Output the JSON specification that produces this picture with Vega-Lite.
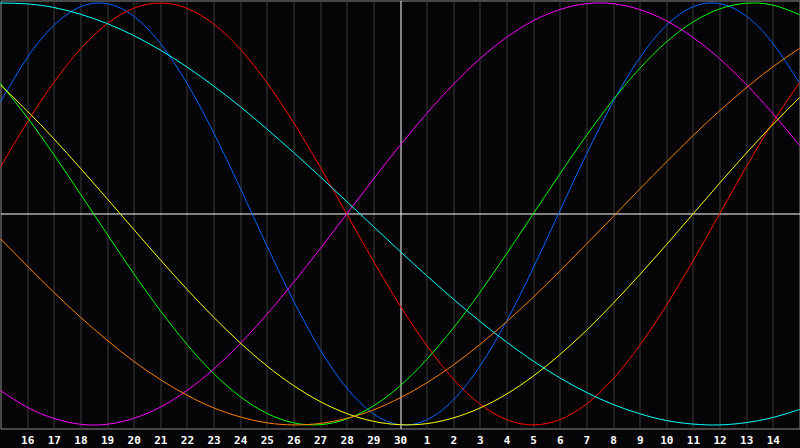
{
  "$schema": "https://vega.github.io/schema/vega-lite/v6.json",
  "width": 799,
  "height": 428,
  "autosize": "none",
  "padding": {"left": 0.5, "top": 0.5, "right": 0.5, "bottom": 19},
  "background": "#050507",
  "config": {"view": {"stroke": "#8c8c8c", "strokeWidth": 1}},
  "data": {"values": [
    {"c":"23","t":0,"v":0.531},{"c":"23","t":1,"v":0.740},{"c":"23","t":2,"v":0.894},{"c":"23","t":3,"v":0.982},{"c":"23","t":4,"v":0.997},{"c":"23","t":5,"v":0.938},{"c":"23","t":6,"v":0.809},{"c":"23","t":7,"v":0.620},{"c":"23","t":8,"v":0.386},{"c":"23","t":9,"v":0.123},{"c":"23","t":10,"v":-0.150},{"c":"23","t":11,"v":-0.411},{"c":"23","t":12,"v":-0.642},{"c":"23","t":13,"v":-0.825},{"c":"23","t":14,"v":-0.947},{"c":"23","t":15,"v":-0.999},{"c":"23","t":16,"v":-0.976},{"c":"23","t":17,"v":-0.882},{"c":"23","t":18,"v":-0.721},{"c":"23","t":19,"v":-0.508},{"c":"23","t":20,"v":-0.257},{"c":"23","t":21,"v":0.014},{"c":"23","t":22,"v":0.283},{"c":"23","t":23,"v":0.531},{"c":"23","t":24,"v":0.740},{"c":"23","t":25,"v":0.894},{"c":"23","t":26,"v":0.982},{"c":"23","t":27,"v":0.997},{"c":"23","t":28,"v":0.938},{"c":"23","t":29,"v":0.809},{"c":"23","t":30,"v":0.620},
    {"c":"28","t":0,"v":0.223},{"c":"28","t":1,"v":0.434},{"c":"28","t":2,"v":0.623},{"c":"28","t":3,"v":0.782},{"c":"28","t":4,"v":0.901},{"c":"28","t":5,"v":0.975},{"c":"28","t":6,"v":1.000},{"c":"28","t":7,"v":0.975},{"c":"28","t":8,"v":0.901},{"c":"28","t":9,"v":0.782},{"c":"28","t":10,"v":0.623},{"c":"28","t":11,"v":0.434},{"c":"28","t":12,"v":0.223},{"c":"28","t":13,"v":0},{"c":"28","t":14,"v":-0.223},{"c":"28","t":15,"v":-0.434},{"c":"28","t":16,"v":-0.623},{"c":"28","t":17,"v":-0.782},{"c":"28","t":18,"v":-0.901},{"c":"28","t":19,"v":-0.975},{"c":"28","t":20,"v":-1.000},{"c":"28","t":21,"v":-0.975},{"c":"28","t":22,"v":-0.901},{"c":"28","t":23,"v":-0.782},{"c":"28","t":24,"v":-0.623},{"c":"28","t":25,"v":-0.434},{"c":"28","t":26,"v":-0.223},{"c":"28","t":27,"v":0},{"c":"28","t":28,"v":0.223},{"c":"28","t":29,"v":0.434},{"c":"28","t":30,"v":0.623},
    {"c":"33","t":0,"v":0.618},{"c":"33","t":1,"v":0.458},{"c":"33","t":2,"v":0.282},{"c":"33","t":3,"v":0.095},{"c":"33","t":4,"v":-0.095},{"c":"33","t":5,"v":-0.282},{"c":"33","t":6,"v":-0.458},{"c":"33","t":7,"v":-0.618},{"c":"33","t":8,"v":-0.756},{"c":"33","t":9,"v":-0.866},{"c":"33","t":10,"v":-0.945},{"c":"33","t":11,"v":-0.990},{"c":"33","t":12,"v":-0.999},{"c":"33","t":13,"v":-0.972},{"c":"33","t":14,"v":-0.910},{"c":"33","t":15,"v":-0.815},{"c":"33","t":16,"v":-0.690},{"c":"33","t":17,"v":-0.541},{"c":"33","t":18,"v":-0.372},{"c":"33","t":19,"v":-0.189},{"c":"33","t":20,"v":0},{"c":"33","t":21,"v":0.189},{"c":"33","t":22,"v":0.372},{"c":"33","t":23,"v":0.541},{"c":"33","t":24,"v":0.690},{"c":"33","t":25,"v":0.815},{"c":"33","t":26,"v":0.910},{"c":"33","t":27,"v":0.972},{"c":"33","t":28,"v":0.999},{"c":"33","t":29,"v":0.990},{"c":"33","t":30,"v":0.945},
    {"c":"38","t":0,"v":-0.837},{"c":"38","t":1,"v":-0.916},{"c":"38","t":2,"v":-0.969},{"c":"38","t":3,"v":-0.997},{"c":"38","t":4,"v":-0.997},{"c":"38","t":5,"v":-0.969},{"c":"38","t":6,"v":-0.916},{"c":"38","t":7,"v":-0.837},{"c":"38","t":8,"v":-0.736},{"c":"38","t":9,"v":-0.614},{"c":"38","t":10,"v":-0.476},{"c":"38","t":11,"v":-0.325},{"c":"38","t":12,"v":-0.165},{"c":"38","t":13,"v":0},{"c":"38","t":14,"v":0.165},{"c":"38","t":15,"v":0.325},{"c":"38","t":16,"v":0.476},{"c":"38","t":17,"v":0.614},{"c":"38","t":18,"v":0.736},{"c":"38","t":19,"v":0.837},{"c":"38","t":20,"v":0.916},{"c":"38","t":21,"v":0.969},{"c":"38","t":22,"v":0.997},{"c":"38","t":23,"v":0.997},{"c":"38","t":24,"v":0.969},{"c":"38","t":25,"v":0.916},{"c":"38","t":26,"v":0.837},{"c":"38","t":27,"v":0.736},{"c":"38","t":28,"v":0.614},{"c":"38","t":29,"v":0.476},{"c":"38","t":30,"v":0.325},
    {"c":"43","t":0,"v":0.611},{"c":"43","t":1,"v":0.489},{"c":"43","t":2,"v":0.357},{"c":"43","t":3,"v":0.217},{"c":"43","t":4,"v":0.073},{"c":"43","t":5,"v":-0.073},{"c":"43","t":6,"v":-0.217},{"c":"43","t":7,"v":-0.357},{"c":"43","t":8,"v":-0.489},{"c":"43","t":9,"v":-0.611},{"c":"43","t":10,"v":-0.720},{"c":"43","t":11,"v":-0.813},{"c":"43","t":12,"v":-0.889},{"c":"43","t":13,"v":-0.946},{"c":"43","t":14,"v":-0.983},{"c":"43","t":15,"v":-0.999},{"c":"43","t":16,"v":-0.994},{"c":"43","t":17,"v":-0.967},{"c":"43","t":18,"v":-0.920},{"c":"43","t":19,"v":-0.854},{"c":"43","t":20,"v":-0.769},{"c":"43","t":21,"v":-0.667},{"c":"43","t":22,"v":-0.552},{"c":"43","t":23,"v":-0.424},{"c":"43","t":24,"v":-0.288},{"c":"43","t":25,"v":-0.146},{"c":"43","t":26,"v":0},{"c":"43","t":27,"v":0.146},{"c":"43","t":28,"v":0.288},{"c":"43","t":29,"v":0.424},{"c":"43","t":30,"v":0.552},
    {"c":"48","t":0,"v":-0.118},{"c":"48","t":1,"v":-0.246},{"c":"48","t":2,"v":-0.371},{"c":"48","t":3,"v":-0.489},{"c":"48","t":4,"v":-0.598},{"c":"48","t":5,"v":-0.698},{"c":"48","t":6,"v":-0.785},{"c":"48","t":7,"v":-0.859},{"c":"48","t":8,"v":-0.919},{"c":"48","t":9,"v":-0.962},{"c":"48","t":10,"v":-0.990},{"c":"48","t":11,"v":-1.000},{"c":"48","t":12,"v":-0.993},{"c":"48","t":13,"v":-0.969},{"c":"48","t":14,"v":-0.929},{"c":"48","t":15,"v":-0.872},{"c":"48","t":16,"v":-0.801},{"c":"48","t":17,"v":-0.716},{"c":"48","t":18,"v":-0.619},{"c":"48","t":19,"v":-0.511},{"c":"48","t":20,"v":-0.395},{"c":"48","t":21,"v":-0.271},{"c":"48","t":22,"v":-0.143},{"c":"48","t":23,"v":-0.013},{"c":"48","t":24,"v":0.118},{"c":"48","t":25,"v":0.246},{"c":"48","t":26,"v":0.371},{"c":"48","t":27,"v":0.489},{"c":"48","t":28,"v":0.598},{"c":"48","t":29,"v":0.698},{"c":"48","t":30,"v":0.785},
    {"c":"53","t":0,"v":1.000},{"c":"53","t":1,"v":0.996},{"c":"53","t":2,"v":0.979},{"c":"53","t":3,"v":0.947},{"c":"53","t":4,"v":0.903},{"c":"53","t":5,"v":0.846},{"c":"53","t":6,"v":0.777},{"c":"53","t":7,"v":0.697},{"c":"53","t":8,"v":0.607},{"c":"53","t":9,"v":0.509},{"c":"53","t":10,"v":0.403},{"c":"53","t":11,"v":0.292},{"c":"53","t":12,"v":0.177},{"c":"53","t":13,"v":0.059},{"c":"53","t":14,"v":-0.059},{"c":"53","t":15,"v":-0.177},{"c":"53","t":16,"v":-0.292},{"c":"53","t":17,"v":-0.403},{"c":"53","t":18,"v":-0.509},{"c":"53","t":19,"v":-0.607},{"c":"53","t":20,"v":-0.697},{"c":"53","t":21,"v":-0.777},{"c":"53","t":22,"v":-0.846},{"c":"53","t":23,"v":-0.903},{"c":"53","t":24,"v":-0.947},{"c":"53","t":25,"v":-0.979},{"c":"53","t":26,"v":-0.996},{"c":"53","t":27,"v":-1.000},{"c":"53","t":28,"v":-0.989},{"c":"53","t":29,"v":-0.965},{"c":"53","t":30,"v":-0.927}
  ]},
  "mark": {"type": "line", "interpolate": "natural", "strokeWidth": 1},
  "encoding": {
    "x": {
      "field": "t",
      "type": "quantitative",
      "scale": {"domain": [0, 30]},
      "axis": {
        "values": [1,2,3,4,5,6,7,8,9,10,11,12,13,14,15,16,17,18,19,20,21,22,23,24,25,26,27,28,29],
        "labelExpr": "datum.value <= 15 ? datum.value + 15 : datum.value - 15",
        "title": null,
        "grid": true,
        "gridColor": {"condition": {"test": "datum.value == 15", "value": "#ffffff"}, "value": "#3c3c3c"},
        "gridOpacity": 1,
        "ticks": false,
        "domain": false,
        "labelColor": "#ffffff",
        "labelFont": "DejaVu Sans Mono",
        "labelFontWeight": "bold",
        "labelFontSize": 11,
        "labelPadding": 6,
        "labelOverlap": false,
        "labelFlush": false
      }
    },
    "y": {
      "field": "v",
      "type": "quantitative",
      "scale": {"domain": [-1.017, 1.012]},
      "axis": {
        "values": [0],
        "title": null,
        "grid": true,
        "gridColor": "#ffffff",
        "gridOpacity": 1,
        "labels": false,
        "ticks": false,
        "domain": false
      }
    },
    "color": {
      "field": "c",
      "type": "nominal",
      "scale": {
        "domain": ["23", "28", "33", "38", "43", "48", "53"],
        "range": ["#0064ff", "#ff0000", "#00ff00", "#ff00ff", "#ffff00", "#ff8000", "#00ffff"]
      },
      "legend": null
    }
  }
}
